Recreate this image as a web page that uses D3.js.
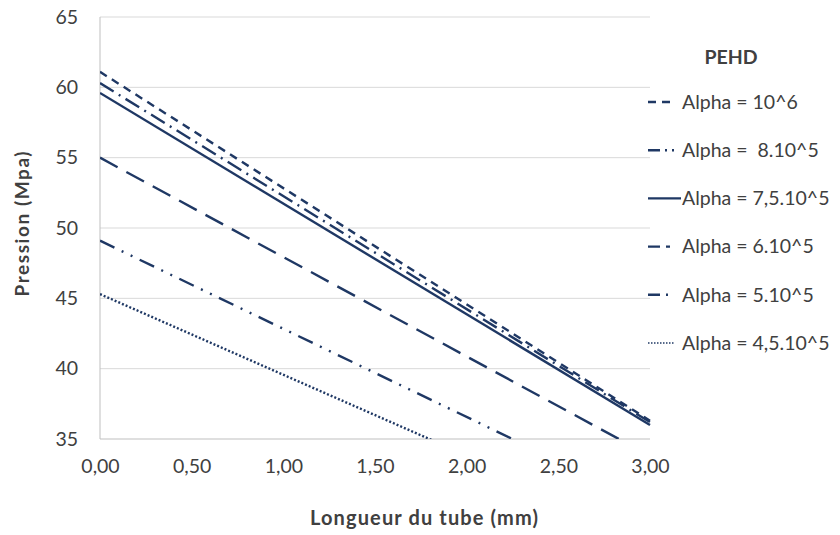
<!DOCTYPE html>
<html><head><meta charset="utf-8">
<script src="https://cdn.jsdelivr.net/npm/d3@7"></script>
<style>body{margin:0;background:#fff}svg{display:block}text{font-family:Lato,"Open Sans",sans-serif;fill:#404040;white-space:pre}</style>
</head><body><svg id="c" width="840" height="535"></svg>
<script>
const xTicks = [0,0.5,1,1.5,2,2.5,3];
const xTickLabels = ["0,00","0,50","1,00","1,50","2,00","2,50","3,00"];
const yTicks = [35,40,45,50,55,60,65];
const seriesNames = ["Alpha = 10^6","Alpha =  8.10^5","Alpha = 7,5.10^5","Alpha = 6.10^5","Alpha = 5.10^5","Alpha = 4,5.10^5"];
const seriesX = [0,3];
const s1 = [61.1,36.3];
const s2 = [60.3,36.2];
const s3 = [59.6,36.0];
const s4 = [55.0,33.8];
const s5 = [49.1,30.3];
const s6 = [45.3,28.1];
const seriesValues = [s1,s2,s3,s4,s5,s6];
const dashes = ["8,6","16,6,2,6","","20,10","16,8,2,8,2,8","2,2"];
const legendDashes = ["8,6","12,5,2,5","","12,6,4,6","12,6,2,6","1.5,1.5"];

const svg = d3.select("#c");
const x = d3.scaleLinear().domain([0,3]).range([100,650]);
const y = d3.scaleLinear().domain([35,65]).range([439,17]);
const col = "#1f3864";
const FF = "Lato,'Open Sans',sans-serif";

svg.append("g").selectAll("line").data(yTicks).join("line")
  .attr("x1",100).attr("x2",650).attr("y1",d=>y(d)).attr("y2",d=>y(d))
  .attr("stroke",d=>d===35?"#bfbfbf":"#d9d9d9").attr("stroke-width",1);
svg.append("line").attr("x1",100).attr("x2",100).attr("y1",17).attr("y2",439).attr("stroke","#bfbfbf");

const yAx = svg.append("g").attr("transform","translate(100,0)").call(d3.axisLeft(y).tickValues(yTicks).tickSize(0).tickPadding(22));
yAx.select(".domain").remove();
yAx.selectAll("text").attr("font-size",19.5).style("font-family",FF).attr("fill","#404040");
const xAx = svg.append("g").attr("transform","translate(0,439)").call(d3.axisBottom(x).tickValues(xTicks).tickFormat((d,i)=>xTickLabels[i]).tickSize(0).tickPadding(20));
xAx.select(".domain").remove();
xAx.selectAll("text").attr("font-size",19.5).style("font-family",FF).attr("fill","#404040");

svg.append("clipPath").attr("id","clip").append("rect").attr("x",100).attr("y",17).attr("width",552).attr("height",422);
const line = d3.line().x((d,i)=>x(seriesX[i])).y(d=>y(d));
svg.append("g").attr("clip-path","url(#clip)").selectAll("path").data(seriesValues).join("path")
  .attr("d",d=>line(d)).attr("fill","none").attr("stroke",col).attr("stroke-width",2.4)
  .attr("stroke-dasharray",(d,i)=>dashes[i]||null);

svg.append("text").attr("x",424).attr("y",525).attr("text-anchor","middle").attr("font-size",20).attr("font-weight","bold")
  .attr("fill","#262626").attr("textLength",228).attr("lengthAdjust","spacing").text("Longueur du tube (mm)");
svg.append("text").attr("transform","translate(29,224) rotate(-90)").attr("text-anchor","middle").attr("font-size",19).attr("font-weight","bold")
  .attr("fill","#262626").attr("textLength",145).attr("lengthAdjust","spacing").text("Pression (Mpa)");

svg.append("text").attr("x",731).attr("y",64).attr("text-anchor","middle").attr("font-size",19.5).attr("font-weight","bold").attr("fill","#262626").text("PEHD");
const lg = svg.append("g").selectAll("g").data(seriesNames).join("g").attr("transform",(d,i)=>`translate(0,${102+i*48.2})`);
lg.append("line").attr("x1",648).attr("x2",(d,i)=>i===2?681:674).attr("y1",0).attr("y2",0)
  .attr("stroke",col).attr("stroke-width",(d,i)=>i===5?1.5:2.4).attr("stroke-dasharray",(d,i)=>legendDashes[i]||null);
lg.append("text").attr("x",682).attr("y",0).attr("dy","0.35em").attr("font-size",19.5).text(d=>d);
</script></body></html>
